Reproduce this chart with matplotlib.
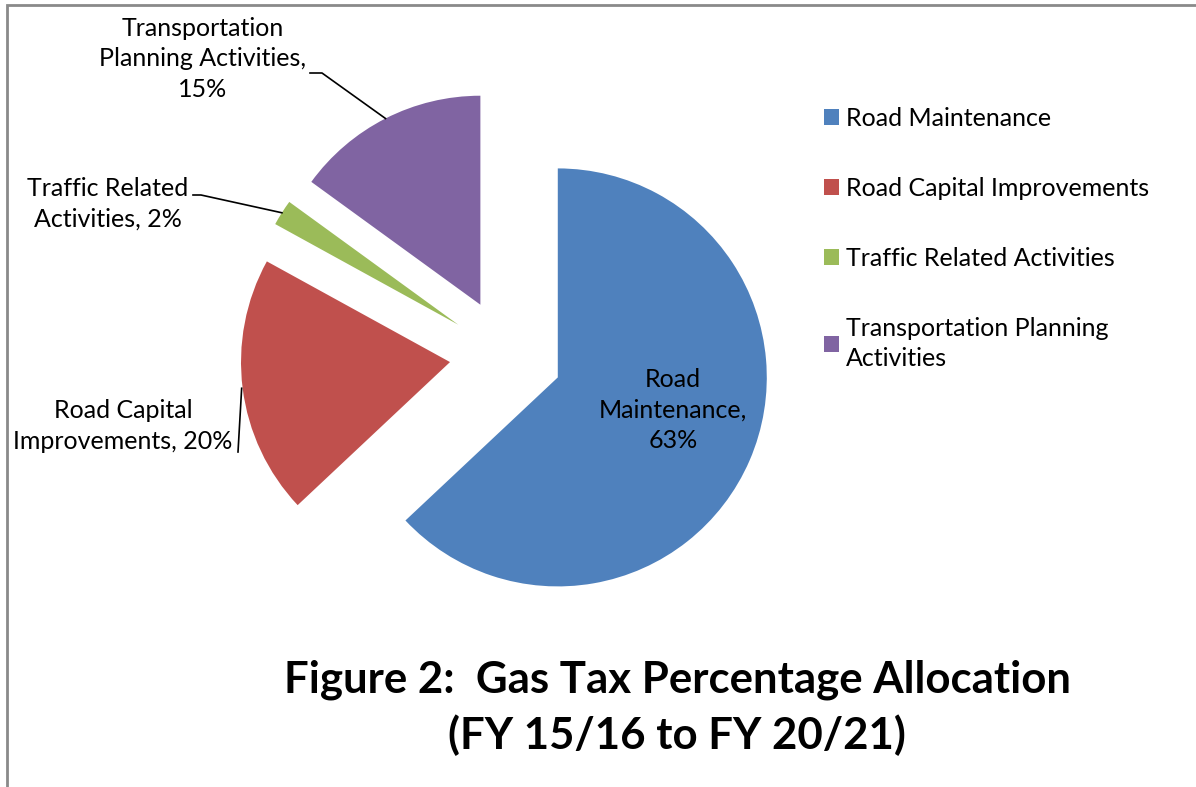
import numpy as np
import matplotlib
matplotlib.use("Agg")
import matplotlib.pyplot as plt
from matplotlib.patches import Rectangle

# data
categories = ["Road Maintenance", "Road Capital Improvements",
              "Traffic Related Activities", "Transportation Planning Activities"]
legend_labels = ["Road Maintenance", "Road Capital Improvements",
                 "Traffic Related Activities", "Transportation Planning\nActivities"]
shares = [63, 20, 2, 15]
colors = ["#4F81BD", "#C0504D", "#9BBB59", "#8064A2"]

plt.rcParams["font.family"] = ["Lato", "DejaVu Sans"]

W, H = 1196, 787
fig = plt.figure(figsize=(W / 100, H / 100), dpi=100)
ax = fig.add_axes([0, 0, 1, 1])
ax.axis("off")

# pie in pixel-like units (y measured from bottom)
cx, cy, r = 506, H - 355, 209
wedges, _ = ax.pie(shares, colors=colors, startangle=90, counterclock=False,
                   explode=[0.27 * r] * 4, center=(cx, cy), radius=r,
                   wedgeprops=dict(linewidth=0))
ax.set_xlim(0, W)
ax.set_ylim(0, H)
ax.set_aspect("auto")

def arc_mid(w):
    a = np.deg2rad((w.theta1 + w.theta2) / 2)
    return w.center[0] + w.r * np.cos(a), w.center[1] + w.r * np.sin(a)

fs = 18
ls = 1.38
# data labels
ax.text(673, H - 410, "Road\nMaintenance,\n63%", ha="center", va="center",
        fontsize=fs, linespacing=ls)
ax.text(123, H - 426, "Road Capital\nImprovements, 20%", ha="center", va="center",
        fontsize=fs, linespacing=ls)
ax.text(108, H - 204, "Traffic Related\nActivities, 2%", ha="center", va="center",
        fontsize=fs, linespacing=ls)
ax.text(203, H - 59, "Transportation\nPlanning Activities,\n15%", ha="center",
        va="center", fontsize=fs, linespacing=ls)

# leader lines
px, py = arc_mid(wedges[3])
ax.plot([310, 322, px], [H - 73, H - 73, py], color="black", lw=1.2)
gx, gy = arc_mid(wedges[2])
ax.plot([193, 201, gx], [H - 195, H - 195, gy], color="black", lw=1.2)
rx, ry = arc_mid(wedges[1])
ax.plot([rx - 1, 238], [ry, H - 452], color="black", lw=1.2)

# legend
leg = fig.legend(wedges, legend_labels, loc="upper left",
                 bbox_to_anchor=(801 / W, 1 - 84 / H),
                 frameon=False, fontsize=fs, handlelength=0.6, handleheight=0.6,
                 handletextpad=0.3, labelspacing=1.88)
for t in leg.get_texts():
    t.set_linespacing(ls)

# title
ax.text(677, H - 708, "Figure 2:  Gas Tax Percentage Allocation\n(FY 15/16 to FY 20/21)",
        ha="center", va="center", fontsize=31.5, fontweight="bold", linespacing=1.42)

# outer border
fig.patches.append(Rectangle((7 / W, -0.05), 1.1, 1 - 5 / H + 0.05,
                             transform=fig.transFigure, fill=False,
                             edgecolor="#8a8a8a", lw=2))

fig.savefig("out.png", dpi=100)
